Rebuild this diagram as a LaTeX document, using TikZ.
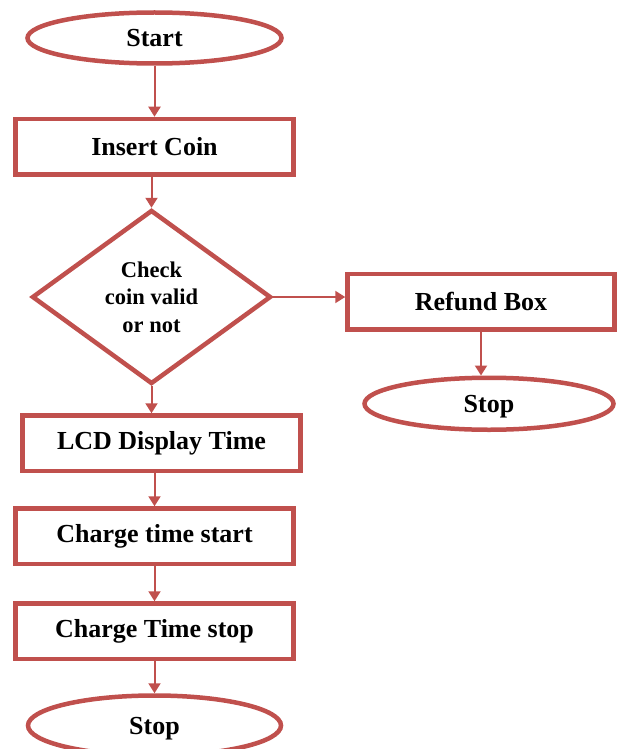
\documentclass[tikz,border=0pt]{standalone}
\usepackage{fontspec}
\setmainfont{Liberation Serif}
\usetikzlibrary{shapes.geometric, positioning, arrows.meta}
\definecolor{flowred}{HTML}{C0504D}
\tikzset{
    every node/.style={ % bold text in every shape
        font=\bfseries\fontsize{26}{28}\selectfont
    },
    term/.style={ % start / stop ovals
        ellipse, draw=flowred, line width=4.5pt, inner sep=0pt,
        text depth=0pt, minimum width=254pt, minimum height=51pt
    },
    block/.style={ % process boxes
        rectangle, draw=flowred, line width=4.5pt,
        minimum width=278pt, minimum height=55.5pt
    },
    decision/.style={
        diamond, draw=flowred, line width=4.5pt, inner sep=0pt,
        shape aspect=1.37, minimum width=239pt, minimum height=174pt,
        align=center, font=\bfseries\fontsize{22.5}{27.5}\selectfont
    },
    flow/.style={ % connectors
        draw=flowred, line width=2pt,
        -{Triangle[width=12pt,length=10pt]}
    },
}

\begin{document}
\begin{tikzpicture}[x=1pt, y=-1pt]
    \useasboundingbox (0,0) rectangle (620,749);

    \node[term]                                        (start)  at (154.5,38) {Start};
    \node[block, below=51pt of start]                  (insert) {Insert Coin};
    \node[decision, below=31pt of insert, xshift=-3pt] (check)  {Check\\coin valid\\or not};
    \node[block, below=27pt of check, xshift=10pt]     (lcd)    {LCD Display Time};
    \node[block, below=33pt of lcd, xshift=-7pt]       (cstart) {Charge time start};
    \node[block, below=35pt of cstart]                 (cstop)  {Charge Time stop};
    \node[term, below=32pt of cstop, minimum height=60pt, minimum width=253pt] (stop) {Stop};

    % coin rejected
    \node[block, right=72pt of check, yshift=-4.5pt, minimum width=267pt]   (refund) {Refund Box};
    \node[term, below=44pt of refund, xshift=8pt, minimum width=249pt,
          minimum height=52pt]                                              (rstop)  {Stop};

    \draw[flow] (start)  -- (insert);
    \draw[flow] (insert.south -| check.north) -- (check.north);
    \draw[flow] (check.south) -- (check.south |- lcd.north);
    \draw[flow] (lcd.south -| cstart.north) -- (cstart.north);
    \draw[flow] (cstart) -- (cstop);
    \draw[flow] (cstop)  -- (stop);
    \draw[flow] (check.east) -- (check.east -| refund.west);
    \draw[flow] (refund.south) -- (refund.south |- rstop.north);
\end{tikzpicture}
\end{document}
